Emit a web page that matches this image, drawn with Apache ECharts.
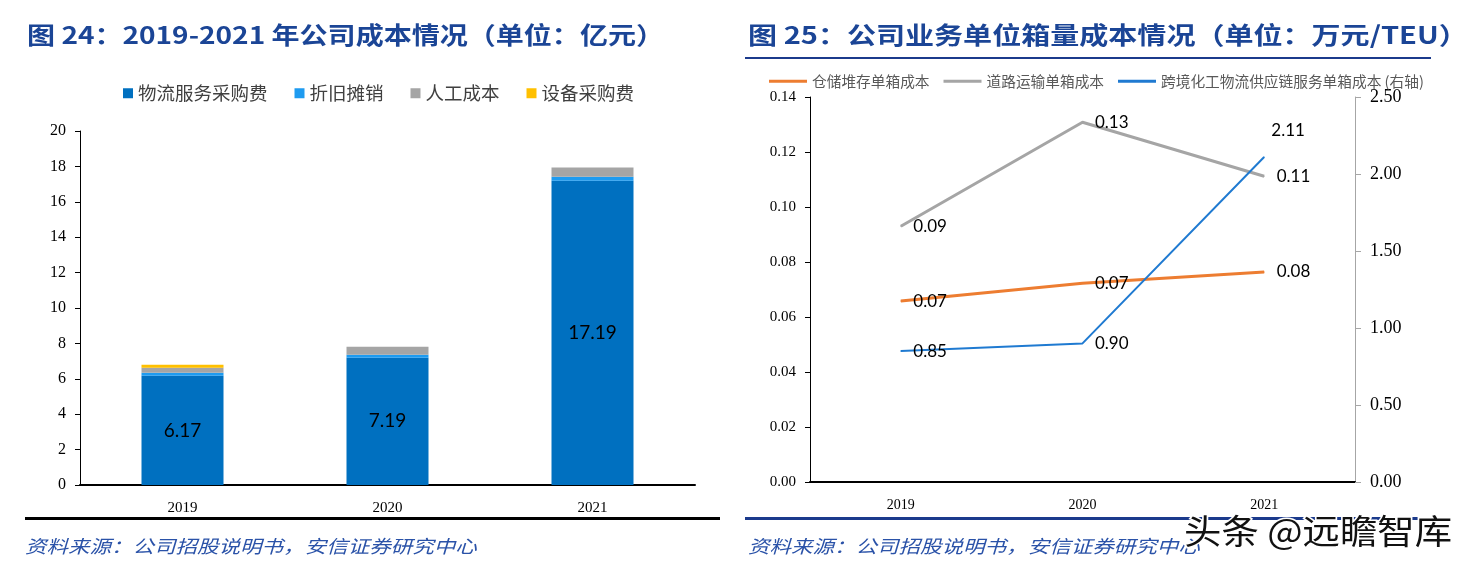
<!DOCTYPE html>
<html><head><meta charset="utf-8">
<script src="https://cdn.jsdelivr.net/npm/echarts@6/dist/echarts.min.js"></script>
<style>html,body{margin:0;padding:0;background:#fff}#c{width:1472px;height:572px}</style>
</head><body><div id="c"></div>
<script>
// ---- Figure 24 data (亿元) ----
const years = ['2019', '2020', '2021'];
const logisticsPurchase = [6.17, 7.19, 17.19]; // 物流服务采购费
const depreciation = [0.17, 0.17, 0.23];       // 折旧摊销
const labor = [0.28, 0.45, 0.52];              // 人工成本
const equipment = [0.17, 0, 0];                // 设备采购费
const barNames = ['物流服务采购费', '折旧摊销', '人工成本', '设备采购费'];

// ---- Figure 25 data (万元/TEU) ----
const storageCost = [0.0658, 0.0723, 0.0764]; // 仓储堆存单箱成本
const roadCost = [0.0930, 0.1308, 0.1112];    // 道路运输单箱成本
const chemCost = [0.85, 0.90, 2.11];          // 跨境化工物流供应链服务单箱成本（右轴）
const lineNames = ['仓储堆存单箱成本', '道路运输单箱成本', '跨境化工物流供应链服务单箱成本 (右轴)'];

const serif = '"Liberation Serif", "DejaVu Serif", serif';
const cjk = '"Noto Sans CJK SC", sans-serif';
const lblFont = 'Lato, "Liberation Sans", sans-serif';
const titleColor = '#1B4596';
const srcColor = '#2A52A8';

const chart = echarts.init(document.getElementById('c'), null, {renderer: 'canvas'});

function lineLabel(extra) {
  return Object.assign({
    show: true, position: 'right', distance: 12, color: '#000',
    fontFamily: lblFont, fontSize: 17,
    formatter: p => p.value.toFixed(2)
  }, extra || {});
}

function txt(x, y, text, font, fill, sx, extra) {
  return {
    type: 'text', x: x, y: y, scaleX: sx, originX: 0, originY: 0,
    style: Object.assign({text: text, font: font, fill: fill, verticalAlign: 'top', align: 'left'}, extra || {})
  };
}

const option = {
  animation: false,
  backgroundColor: '#fff',
  textStyle: {fontFamily: cjk},
  legend: [
    {
      data: barNames, left: 118, top: 79, icon: 'rect', itemWidth: 10, itemHeight: 10, itemGap: 27,
      textStyle: {fontSize: 18.5, color: '#404040', fontFamily: cjk}
    },
    {
      data: lineNames, left: 764, top: 69, icon: 'rect', itemWidth: 38, itemHeight: 3, itemGap: 14,
      textStyle: {fontSize: 14.7, color: '#595959', fontFamily: cjk}
    }
  ],
  grid: [
    {left: 80, top: 131, width: 615, height: 354},
    {left: 810, top: 97, width: 545, height: 385}
  ],
  xAxis: [
    {
      type: 'category', data: years, gridIndex: 0,
      axisLine: {lineStyle: {color: '#000', width: 2}},
      axisTick: {show: false},
      axisLabel: {fontFamily: serif, fontSize: 15, color: '#000', margin: 16}
    },
    {
      type: 'category', data: years, gridIndex: 1,
      axisLine: {lineStyle: {color: '#000', width: 2}},
      axisTick: {show: false},
      axisLabel: {fontFamily: serif, fontSize: 14, color: '#000', margin: 16}
    }
  ],
  yAxis: [
    {
      type: 'value', gridIndex: 0, min: 0, max: 20, interval: 2,
      axisLine: {show: true, lineStyle: {color: '#000', width: 1}},
      axisTick: {show: true, length: 5, lineStyle: {color: '#000'}},
      splitLine: {show: false},
      axisLabel: {fontFamily: serif, fontSize: 16, color: '#000', margin: 14}
    },
    {
      type: 'value', gridIndex: 1, min: 0, max: 0.14, interval: 0.02,
      axisLine: {show: true, lineStyle: {color: '#000', width: 1}},
      axisTick: {show: true, length: 5, lineStyle: {color: '#000'}},
      splitLine: {show: false},
      axisLabel: {fontFamily: serif, fontSize: 15, color: '#000', margin: 14, formatter: v => v.toFixed(2)}
    },
    {
      type: 'value', gridIndex: 1, position: 'right', min: 0, max: 2.5, interval: 0.5,
      axisLine: {show: true, lineStyle: {color: '#A6A6A6', width: 1}},
      axisTick: {show: true, length: 6, lineStyle: {color: '#A6A6A6'}},
      splitLine: {show: false},
      axisLabel: {fontFamily: serif, fontSize: 18, color: '#000', margin: 15, formatter: v => v.toFixed(2)}
    }
  ],
  series: [
    {
      name: barNames[0], type: 'bar', stack: 'cost', xAxisIndex: 0, yAxisIndex: 0,
      data: logisticsPurchase, barWidth: '40%', itemStyle: {color: '#0070C0'},
      label: {show: true, position: 'inside', color: '#000', fontFamily: lblFont, fontSize: 19, formatter: p => p.value.toFixed(2)}
    },
    {name: barNames[1], type: 'bar', stack: 'cost', xAxisIndex: 0, yAxisIndex: 0, data: depreciation, barWidth: '40%', itemStyle: {color: '#1E9BF0'}},
    {name: barNames[2], type: 'bar', stack: 'cost', xAxisIndex: 0, yAxisIndex: 0, data: labor, barWidth: '40%', itemStyle: {color: '#A5A5A5'}},
    {name: barNames[3], type: 'bar', stack: 'cost', xAxisIndex: 0, yAxisIndex: 0, data: equipment, barWidth: '40%', itemStyle: {color: '#FFC000'}},
    {
      name: lineNames[0], type: 'line', xAxisIndex: 1, yAxisIndex: 1, data: storageCost,
      symbol: 'circle', symbolSize: 1, showSymbol: true,
      lineStyle: {color: '#ED7D31', width: 3}, itemStyle: {color: '#ED7D31'},
      label: lineLabel()
    },
    {
      name: lineNames[1], type: 'line', xAxisIndex: 1, yAxisIndex: 1, data: roadCost,
      symbol: 'circle', symbolSize: 1, showSymbol: true,
      lineStyle: {color: '#A5A5A5', width: 3}, itemStyle: {color: '#A5A5A5'},
      label: lineLabel()
    },
    {
      name: lineNames[2], type: 'line', xAxisIndex: 1, yAxisIndex: 2,
      data: chemCost.map((v, i) => i === 2 ? {value: v, label: {position: 'top', offset: [24, -6]}} : v),
      symbol: 'circle', symbolSize: 1, showSymbol: true,
      lineStyle: {color: '#1F7AD1', width: 2}, itemStyle: {color: '#1F7AD1'},
      label: lineLabel()
    }
  ],
  graphic: [
    txt(27, 23, '图 24：2019-2021 年公司成本情况（单位：亿元）', 'bold 24px ' + cjk, titleColor, 1.168),
    txt(748, 23, '图 25：公司业务单位箱量成本情况（单位：万元/TEU）', 'bold 24px ' + cjk, titleColor, 1.21),
    {type: 'rect', shape: {x: 745, y: 57, width: 686, height: 2}, style: {fill: '#1B3A8C'}},
    {type: 'rect', shape: {x: 25, y: 517, width: 695, height: 3}, style: {fill: '#000'}},
    {type: 'rect', shape: {x: 745, y: 517, width: 700, height: 3}, style: {fill: '#1B3A8C'}},
    txt(25, 537, '资料来源：公司招股说明书，安信证券研究中心', 'italic 18px ' + cjk, srcColor, 1.195),
    txt(748, 537, '资料来源：公司招股说明书，安信证券研究中心', 'italic 18px ' + cjk, srcColor, 1.195),
    txt(1184, 514, '头条 @远瞻智库', '34px ' + cjk, '#111', 1.1, {stroke: '#fff', lineWidth: 3})
  ]
};
chart.setOption(option);
</script>
</body></html>
